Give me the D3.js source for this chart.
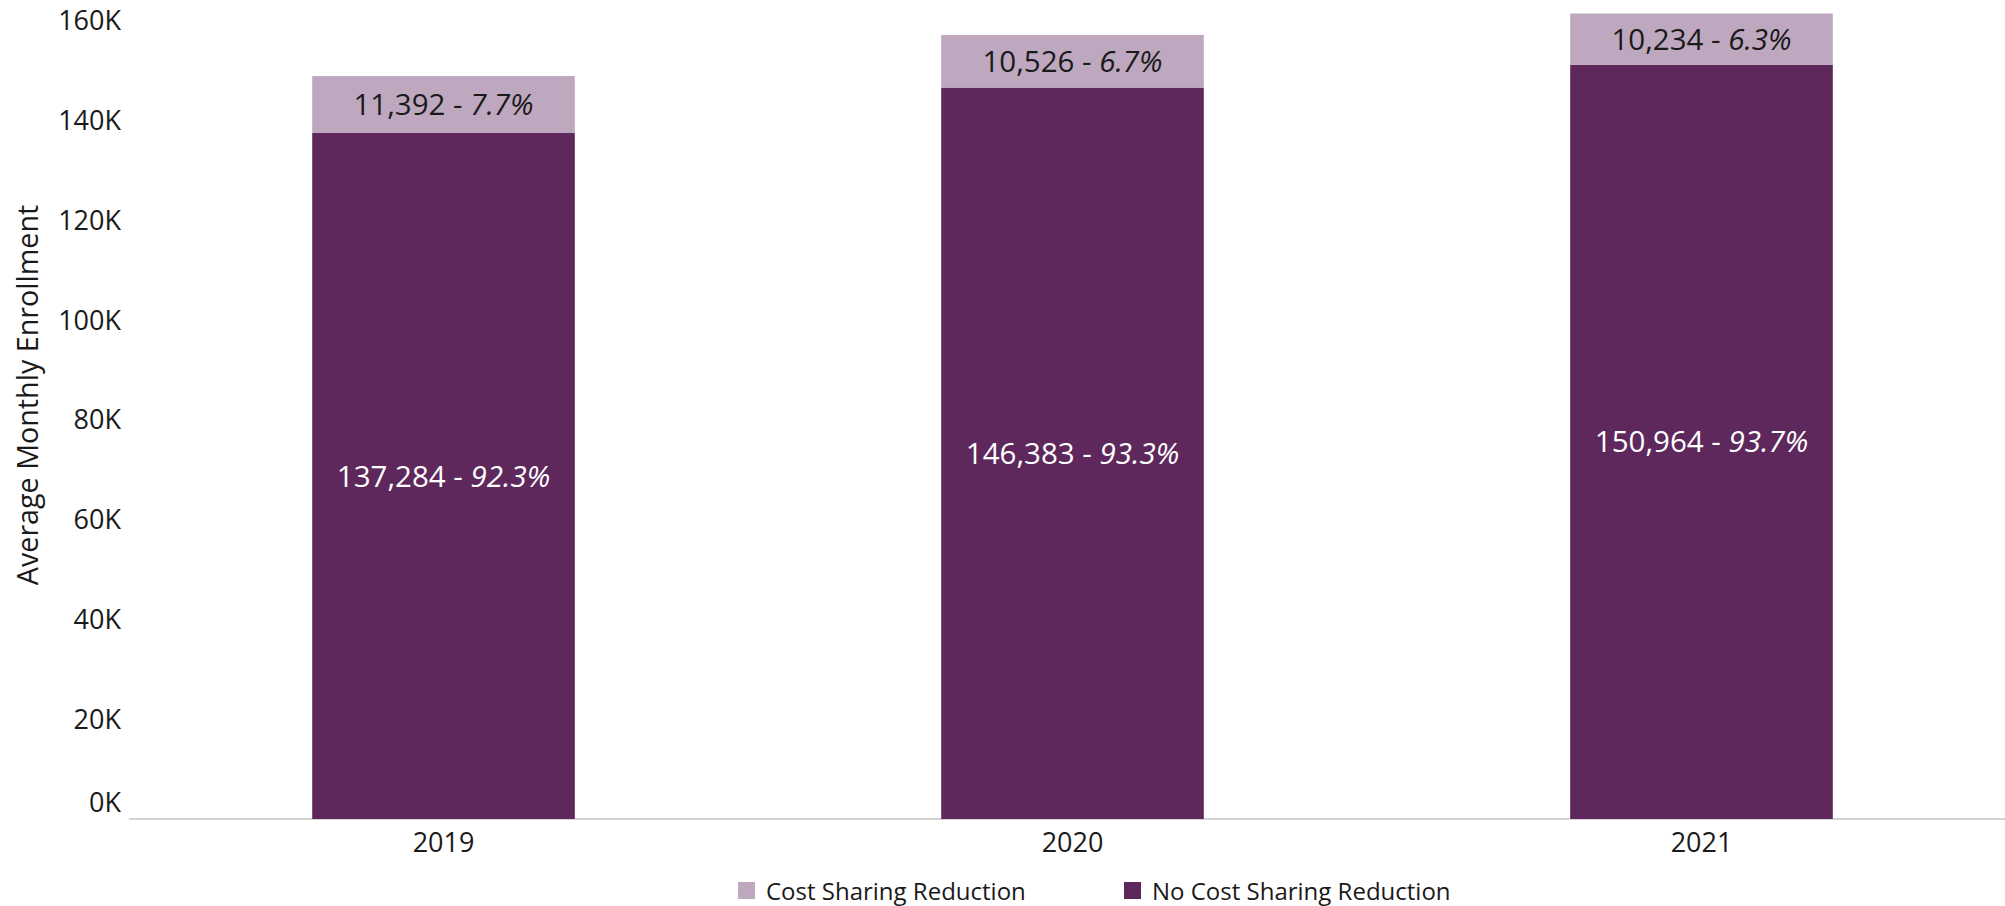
<!DOCTYPE html>
<html>
<head>
<meta charset="utf-8">
<script src="https://cdn.jsdelivr.net/npm/d3@7"></script>
<style>
  html, body { margin: 0; padding: 0; background: #ffffff; }
  svg { display: block; font-family: "Open Sans", "Noto Sans", sans-serif; }
</style>
</head>
<body>
<svg id="chart" width="2005" height="906"></svg>
<script>
// Enrollment by year, split by cost sharing reduction status
const years = ["2019", "2020", "2021"];
const costSharing = [11392, 10526, 10234];
const noCostSharing = [137284, 146383, 150964];
const yTicks = [0, 20000, 40000, 60000, 80000, 100000, 120000, 140000, 160000];
const seriesNames = ["Cost Sharing Reduction", "No Cost Sharing Reduction"];
const seriesColors = ["#bea8bf", "#5e285d"];

const svg = d3.select("#chart");
const textColor = "#1a1a1a";

const x = d3.scaleBand()
  .domain(years)
  .range([129, 2016])
  .paddingInner(0.5825)
  .paddingOuter(0.29125);

const y = d3.scaleLinear()
  .domain([0, 160000])
  .range([819, 19.5]);

const rows = years.map((yr, i) => ({
  year: yr,
  noCsr: noCostSharing[i],
  csr: costSharing[i],
  total: noCostSharing[i] + costSharing[i]
}));

const stack = d3.stack().keys(["noCsr", "csr"]);
const layers = stack(rows);
const layerColor = { noCsr: seriesColors[1], csr: seriesColors[0] };
const labelColor = { noCsr: "#ffffff", csr: textColor };

// Baseline
svg.append("line")
  .attr("x1", 129).attr("x2", 2005)
  .attr("y1", y(0)).attr("y2", y(0))
  .attr("stroke", "#c8c6c4")
  .attr("stroke-width", 1.5);

// Stacked bars
const g = svg.append("g");
layers.forEach(layer => {
  g.selectAll(null)
    .data(layer)
    .join("rect")
    .attr("x", d => x(d.data.year))
    .attr("width", x.bandwidth())
    .attr("y", d => y(d[1]))
    .attr("height", d => y(d[0]) - y(d[1]))
    .attr("fill", layerColor[layer.key]);
});

// Segment labels: count and share of the year's total
const fmtNum = d3.format(",");
const fmtPct = d3.format(".1%");
layers.forEach(layer => {
  const t = g.selectAll(null)
    .data(layer)
    .join("text")
    .attr("x", d => x(d.data.year) + x.bandwidth() / 2)
    .attr("y", d => (y(d[0]) + y(d[1])) / 2)
    .attr("dy", "0.36em")
    .attr("text-anchor", "middle")
    .attr("font-size", 29.5)
    .attr("fill", labelColor[layer.key]);
  t.append("tspan").text(d => fmtNum(d.data[layer.key]) + " - ");
  t.append("tspan").attr("font-style", "italic")
    .text(d => fmtPct(d.data[layer.key] / d.data.total));
});

// Y axis
const yAxis = svg.append("g")
  .attr("transform", "translate(121,0)")
  .call(d3.axisLeft(y).tickValues(yTicks).tickSize(0).tickPadding(0)
    .tickFormat(d => (d / 1000) + "K"));
yAxis.select(".domain").remove();
yAxis.selectAll("text")
  .attr("font-family", "Open Sans, sans-serif")
  .attr("font-size", 27)
  .attr("fill", textColor)
  .attr("dy", "0.36em");
// keep the zero label clear of the baseline
yAxis.selectAll(".tick").filter(d => d === 0).select("text")
  .attr("y", -17);

// X axis
const xAxis = svg.append("g")
  .attr("transform", `translate(0,${y(0)})`)
  .call(d3.axisBottom(x).tickSize(0).tickPadding(0));
xAxis.select(".domain").remove();
xAxis.selectAll("text")
  .attr("font-family", "Open Sans, sans-serif")
  .attr("font-size", 27)
  .attr("fill", textColor)
  .attr("y", 23)
  .attr("dy", "0.36em");

// Y axis title
svg.append("text")
  .attr("transform", "translate(28,395) rotate(-90)")
  .attr("dy", "0.36em")
  .attr("text-anchor", "middle")
  .attr("font-size", 28.7)
  .attr("fill", textColor)
  .text("Average Monthly Enrollment");

// Legend
const legendX = [738, 1124];
const legend = svg.append("g");
seriesNames.forEach((name, i) => {
  legend.append("rect")
    .attr("x", legendX[i]).attr("y", 882)
    .attr("width", 17).attr("height", 17)
    .attr("fill", seriesColors[i]);
  legend.append("text")
    .attr("x", legendX[i] + 28).attr("y", 891)
    .attr("dy", "0.36em")
    .attr("font-size", 24)
    .attr("fill", textColor)
    .text(name);
});
</script>
</body>
</html>
